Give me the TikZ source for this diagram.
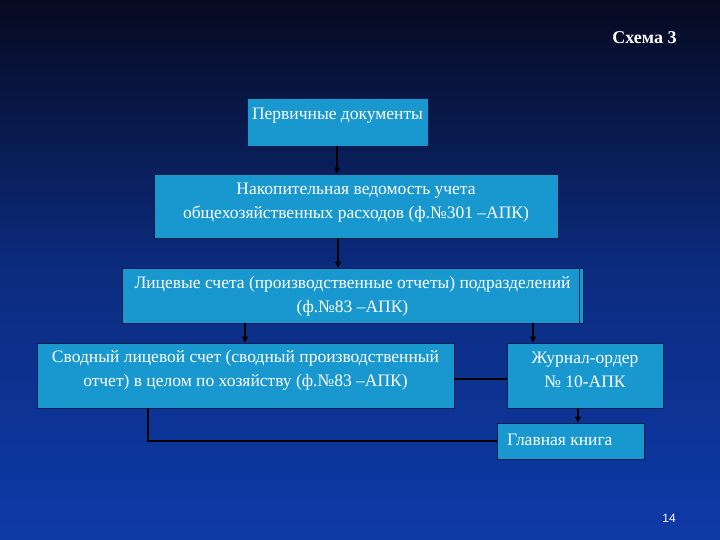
\documentclass[tikz,border=0pt]{standalone}
\usepackage{fontspec}
\setmainfont{Liberation Serif}
\newfontfamily\numfont{Liberation Sans}
\usetikzlibrary{arrows.meta}
\definecolor{bgtop}{RGB}{6,10,32}
\definecolor{bgbot}{RGB}{14,58,168}
\definecolor{boxfill}{RGB}{24,152,206}
\definecolor{boxline}{RGB}{10,30,80}
\tikzset{
  box/.style={draw=boxline, line width=0.8pt, fill=boxfill, inner sep=0pt},
  txt/.style={text=white, font=\fontsize{17.5}{24}\selectfont, align=center, inner sep=0pt},
  conn/.style={draw=black, line width=2pt},
  arr/.style={conn, -{Triangle[length=6pt,width=6pt]}},
}
\begin{document}
\begin{tikzpicture}[x=1pt,y=-1pt]
\shade[top color=bgtop, bottom color=bgbot, middle color=bgbot!70!bgtop] (0,0) rectangle (720,540);
\useasboundingbox (0,0) rectangle (720,540);

\node[text=white, font=\fontsize{18}{20}\selectfont\bfseries, anchor=center, inner sep=0pt] (title) at (644.5,38) {Схема 3};

\node[box, minimum width=181pt, minimum height=48pt] (b1) at (337.5,122) {};
\node[txt] (t1) at (337.5,116) {Первичные документы};

\node[box, minimum width=404pt, minimum height=64pt] (b2) at (356,206) {};
\node[txt] (t2) at (356,203) {Накопительная ведомость учета\\общехозяйственных расходов (ф.№301 –АПК)};

\node[box, minimum width=461pt, minimum height=55pt] (b3) at (352.5,295.5) {};
\draw[boxline, line width=0.8pt] ([xshift=-4pt]b3.north east) -- ([xshift=-4pt]b3.south east);
\node[txt] (t3) at (352.5,296) {Лицевые счета (производственные отчеты) подразделений\\(ф.№83 –АПК)};

\node[box, minimum width=417pt, minimum height=65pt] (b4) at (245.5,375.5) {};
\node[txt] (t4) at (245.5,370) {Сводный лицевой счет (сводный производственный\\отчет) в целом по хозяйству (ф.№83 –АПК)};

\node[box, minimum width=156pt, minimum height=65pt] (b5) at (585,375.5) {};
\node[txt] (t5) at (585,370) {Журнал-ордер\\№ 10-АПК};

\node[box, minimum width=147pt, minimum height=36pt] (b6) at (570.5,441) {};
\node[txt, anchor=west] (t6) at (507,439.5) {Главная книга};

\draw[arr] (b1.south -| 337,0) -- (b2.north -| 337,0);
\draw[arr] (b2.south -| 338,0) -- (b3.north -| 338,0);
\draw[arr] (b3.south -| 245,0) -- (b4.north -| 245,0);
\draw[arr] (b3.south -| 533,0) -- (b5.north -| 533,0);
\draw[arr] (b5.south -| 578,0) -- (b6.north -| 578,0);
\draw[conn] (b4.east |- 0,379) -- (b5.west |- 0,379);
\draw[conn] (b4.south -| 148,0) -- (148,441) -- (b6.west);

\node[text=white, font=\numfont\fontsize{12}{13}\selectfont, inner sep=0pt] (pg) at (669,518) {14};
\end{tikzpicture}
\end{document}
